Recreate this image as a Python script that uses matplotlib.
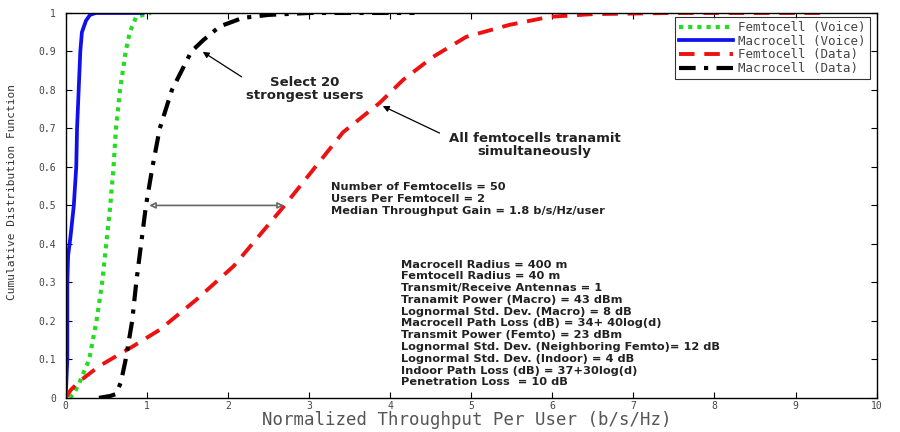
import matplotlib
matplotlib.use("Agg")
import matplotlib.pyplot as plt

# ---- data ----
macro_voice_x = [0, 0.02, 0.02, 0.03, 0.06, 0.10, 0.13, 0.14, 0.16, 0.18, 0.20, 0.25, 0.30, 0.37, 0.55, 0.95]
macro_voice_y = [0, 0.10, 0.30, 0.37, 0.42, 0.50, 0.60, 0.70, 0.80, 0.90, 0.95, 0.98, 0.995, 1.0, 1.0, 1.0]

femto_voice_x = [0.05, 0.10, 0.17, 0.25, 0.29, 0.38, 0.45, 0.50, 0.55, 0.59, 0.62, 0.67, 0.74, 0.79, 0.87, 1.05]
femto_voice_y = [0, 0.01, 0.04, 0.08, 0.10, 0.20, 0.30, 0.40, 0.50, 0.60, 0.70, 0.80, 0.90, 0.95, 0.99, 1.0]

femto_data_x = [0, 0.06, 0.17, 0.41, 0.83, 1.16, 1.61, 2.07, 2.70, 3.42, 3.87, 4.16, 4.53, 4.94, 5.47, 5.97, 6.50, 7.50, 9.30]
femto_data_y = [0, 0.02, 0.043, 0.082, 0.134, 0.177, 0.255, 0.342, 0.50, 0.69, 0.766, 0.826, 0.886, 0.938, 0.969, 0.99, 0.997, 1.0, 1.0]

macro_data_x = [0.41, 0.55, 0.62, 0.68, 0.74, 0.82, 0.87, 0.93, 0.99, 1.07, 1.16, 1.31, 1.55, 1.70, 1.90, 2.18, 2.50, 3.00, 4.30]
macro_data_y = [0, 0.005, 0.01, 0.04, 0.10, 0.20, 0.30, 0.40, 0.50, 0.60, 0.70, 0.80, 0.90, 0.93, 0.965, 0.987, 0.995, 1.0, 1.0]

legend_labels = ["Femtocell (Voice)", "Macrocell (Voice)", "Femtocell (Data)", "Macrocell (Data)"]
x_ticks = [0, 1, 2, 3, 4, 5, 6, 7, 8, 9, 10]
y_ticks = [0, 0.1, 0.2, 0.3, 0.4, 0.5, 0.6, 0.7, 0.8, 0.9, 1]
y_tick_labels = ["0", "0.1", "0.2", "0.3", "0.4", "0.5", "0.6", "0.7", "0.8", "0.9", "1"]

params1 = ["Number of Femtocells = 50",
           "Users Per Femtocell = 2",
           "Median Throughput Gain = 1.8 b/s/Hz/user"]
params2 = ["Macrocell Radius = 400 m",
           "Femtocell Radius = 40 m",
           "Transmit/Receive Antennas = 1",
           "Tranamit Power (Macro) = 43 dBm",
           "Lognormal Std. Dev. (Macro) = 8 dB",
           "Macrocell Path Loss (dB) = 34+ 40log(d)",
           "Transmit Power (Femto) = 23 dBm",
           "Lognormal Std. Dev. (Neighboring Femto)= 12 dB",
           "Lognormal Std. Dev. (Indoor) = 4 dB",
           "Indoor Path Loss (dB) = 37+30log(d)",
           "Penetration Loss  = 10 dB"]

plt.rcParams['font.family'] = ['Liberation Sans', 'DejaVu Sans']
mono = ['DejaVu Sans Mono', 'DejaVu Sans']
ann_font = ['DejaVu Sans', 'Liberation Sans']

fig = plt.figure(figsize=(9, 4.32), dpi=100)
ax = fig.add_axes([0.073, 0.079, 0.901, 0.891])

l1, = ax.plot(femto_voice_x, femto_voice_y, color='#22dd22', lw=3, linestyle=(0, (1, 1.2)))
l2, = ax.plot(macro_voice_x, macro_voice_y, color='#1010ee', lw=2.7, linestyle='-')
l3, = ax.plot(femto_data_x, femto_data_y, color='#ee1111', lw=2.8, linestyle=(0, (4, 2.5)))
l4, = ax.plot(macro_data_x, macro_data_y, color='black', lw=3, linestyle=(0, (4, 2, 1, 2)))

ax.set_xlim(0, 10)
ax.set_ylim(0, 1)
ax.set_xticks(x_ticks)
ax.set_xticklabels([str(t) for t in x_ticks])
ax.set_yticks(y_ticks)
ax.set_yticklabels(y_tick_labels)
ax.tick_params(direction='in', top=True, right=True, labelsize=7, labelcolor='#444444',
               length=4, width=0.8)
ax.tick_params(axis='x', pad=2.5)
ax.tick_params(axis='y', pad=7)
for lab in ax.get_xticklabels() + ax.get_yticklabels():
    lab.set_family(mono)
for s in ax.spines.values():
    s.set_linewidth(1.0)

ax.set_xlabel("Normalized Throughput Per User (b/s/Hz)", fontsize=12.5, color='#555555',
              family=mono)
ax.xaxis.label.set_va('baseline')
ax.xaxis.set_label_coords(0.494, -0.070)
ax.set_ylabel("Cumulative Distribution Function", fontsize=8, color='#333333',
              family=mono)
ax.yaxis.set_label_coords(-0.060, 0.535)

leg = ax.legend([l1, l2, l3, l4], legend_labels, loc='upper right',
                bbox_to_anchor=(0.9915, 0.99), frameon=True,
                prop={'family': mono, 'size': 9},
                fancybox=False, edgecolor='black', handlelength=4.3, borderpad=0.35,
                labelspacing=0.05, handletextpad=0.4, borderaxespad=0.0)
leg.get_frame().set_linewidth(0.8)
for t in leg.get_texts():
    t.set_color('#444444')

# annotations: arrows
ax.annotate("", xy=(1.69, 0.899), xytext=(2.17, 0.834),
            arrowprops=dict(arrowstyle='-|>', color='black', lw=0.9, shrinkA=0,
                            shrinkB=0, mutation_scale=9))
ax.annotate("", xy=(3.91, 0.758), xytext=(4.61, 0.688),
            arrowprops=dict(arrowstyle='-|>', color='black', lw=0.9, shrinkA=0,
                            shrinkB=0, mutation_scale=9))
ax.annotate("", xy=(1.03, 0.5), xytext=(2.69, 0.5),
            arrowprops=dict(arrowstyle='<|-|>', color='#666666', lw=1.2, shrinkA=0,
                            shrinkB=0, mutation_scale=9, fc='white'))

# annotation texts
ax.text(2.95, 0.803, "Select 20\nstrongest users", ha='center', va='center', fontsize=9.5,
        fontweight='bold', color='#222222', family=ann_font, linespacing=1.0)
ax.text(5.78, 0.658, "All femtocells tranamit\nsimultaneously", ha='center', va='center',
        fontsize=9.5, fontweight='bold', color='#222222', family=ann_font, linespacing=1.0)

ax.text(3.27, 0.560, "\n".join(params1), ha='left', va='top', fontsize=8.2,
        fontweight='bold', color='#222222', linespacing=1.25, family=ann_font)
ax.text(4.14, 0.359, "\n".join(params2), ha='left', va='top', fontsize=8.2,
        fontweight='bold', color='#222222', linespacing=1.22, family=ann_font)

fig.savefig("out.png", dpi=100)
